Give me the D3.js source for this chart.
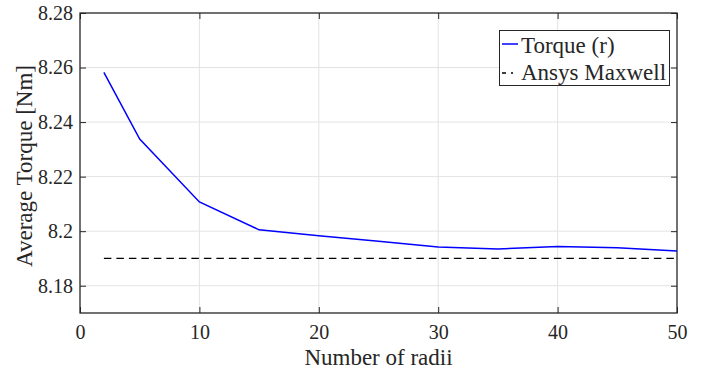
<!DOCTYPE html>
<html>
<head>
<meta charset="utf-8">
<script src="https://cdn.jsdelivr.net/npm/d3@7"></script>
<style>
  body { margin: 0; background: #fff; }
  .grid line { stroke: #e3e3e3; stroke-width: 1; }
  .box { fill: none; stroke: #262626; stroke-width: 1.3; }
</style>
</head>
<body>
<svg id="chart" width="705" height="373"></svg>
<script>
// Number of radii vs. average torque
const radii = [2, 5, 10, 15, 20, 25, 30, 35, 40, 45, 50];
const torque = [8.2582, 8.2338, 8.2107, 8.2005, 8.1983, 8.1963, 8.1942, 8.1935, 8.1944, 8.1939, 8.1927];
const maxwell = 8.19;
const xTicks = [0, 10, 20, 30, 40, 50];
const yTicks = [8.18, 8.2, 8.22, 8.24, 8.26, 8.28];
const yTickLabels = ["8.18", "8.2", "8.22", "8.24", "8.26", "8.28"];

const fontFam = "Liberation Serif";
const ink = "#262626";

const svg = d3.select("#chart");
const plotL = 80, plotR = 677, plotT = 13, plotB = 313;

const x = d3.scaleLinear().domain([0, 50]).range([plotL, plotR]);
const y = d3.scaleLinear().domain([8.17, 8.28]).range([plotB, plotT]);

// Grid lines
const grid = svg.append("g").attr("class", "grid");
grid.selectAll("line.gx")
  .data(xTicks.slice(1, -1))
  .enter().append("line")
  .attr("x1", d => x(d)).attr("x2", d => x(d))
  .attr("y1", plotT).attr("y2", plotB);
grid.selectAll("line.gy")
  .data(yTicks.slice(0, -1))
  .enter().append("line")
  .attr("x1", plotL).attr("x2", plotR)
  .attr("y1", d => y(d)).attr("y2", d => y(d));

// Axes with inward ticks
const xAxis = d3.axisBottom(x).tickValues(xTicks).tickSize(-6).tickPadding(12);
const yAxis = d3.axisLeft(y).tickValues(yTicks).tickSize(-6).tickPadding(7)
  .tickFormat((d, i) => yTickLabels[i]);

const gx = svg.append("g").attr("transform", `translate(0,${plotB})`).call(xAxis);
const gy = svg.append("g").attr("transform", `translate(${plotL},0)`).call(yAxis);
svg.append("g").attr("transform", `translate(0,${plotT})`)
  .call(d3.axisTop(x).tickValues(xTicks).tickSize(-6).tickFormat(""));
svg.append("g").attr("transform", `translate(${plotR},0)`)
  .call(d3.axisRight(y).tickValues(yTicks).tickSize(-6).tickFormat(""));

svg.selectAll(".domain").remove();
svg.selectAll(".tick line").attr("stroke", ink).attr("stroke-width", 1);
gx.attr("font-family", null).attr("font-size", null);
gy.attr("font-family", null).attr("font-size", null);
gx.selectAll("text").style("font-family", fontFam).style("font-size", "20px").attr("fill", ink);
gy.selectAll("text").style("font-family", fontFam).style("font-size", "20px").attr("fill", ink);

svg.append("rect").attr("class", "box")
  .attr("x", plotL).attr("y", plotT)
  .attr("width", plotR - plotL).attr("height", plotB - plotT);

// Data
svg.append("line")
  .attr("x1", x(radii[0])).attr("x2", x(radii[radii.length - 1]))
  .attr("y1", y(maxwell)).attr("y2", y(maxwell))
  .attr("stroke", "#000").attr("stroke-width", 1.3)
  .attr("stroke-dasharray", "7.5,5");

const line = d3.line().x((d, i) => x(radii[i])).y(d => y(d));
svg.append("path").datum(torque)
  .attr("d", line)
  .attr("fill", "none").attr("stroke", "#0000ff").attr("stroke-width", 1.5);

// Axis labels
svg.append("text")
  .attr("x", (plotL + plotR) / 2).attr("y", 365)
  .attr("text-anchor", "middle")
  .style("font-family", fontFam).style("font-size", "23px").attr("fill", ink)
  .text("Number of radii");
svg.append("text")
  .attr("transform", "translate(32,166) rotate(-90)")
  .attr("text-anchor", "middle")
  .style("font-family", fontFam).style("font-size", "23px").attr("fill", ink)
  .text("Average Torque [Nm]");

// Legend
const lg = svg.append("g");
lg.append("rect").attr("x", 499.5).attr("y", 30.5).attr("width", 170).attr("height", 55)
  .attr("fill", "#fff").attr("stroke", ink).attr("stroke-width", 1);
lg.append("line").attr("x1", 502).attr("x2", 518).attr("y1", 44).attr("y2", 44)
  .attr("stroke", "#0000ff").attr("stroke-width", 1.5);
lg.append("line").attr("x1", 502).attr("x2", 518).attr("y1", 73).attr("y2", 73)
  .attr("stroke", "#000").attr("stroke-width", 1.3).attr("stroke-dasharray", "4,5,2,10");
lg.selectAll("text.lab")
  .data(["Torque (r)", "Ansys Maxwell"])
  .enter().append("text")
  .attr("x", 521).attr("y", (d, i) => 53 + i * 27)
  .style("font-family", fontFam).style("font-size", "23px").attr("fill", ink)
  .text(d => d);
</script>
</body>
</html>
